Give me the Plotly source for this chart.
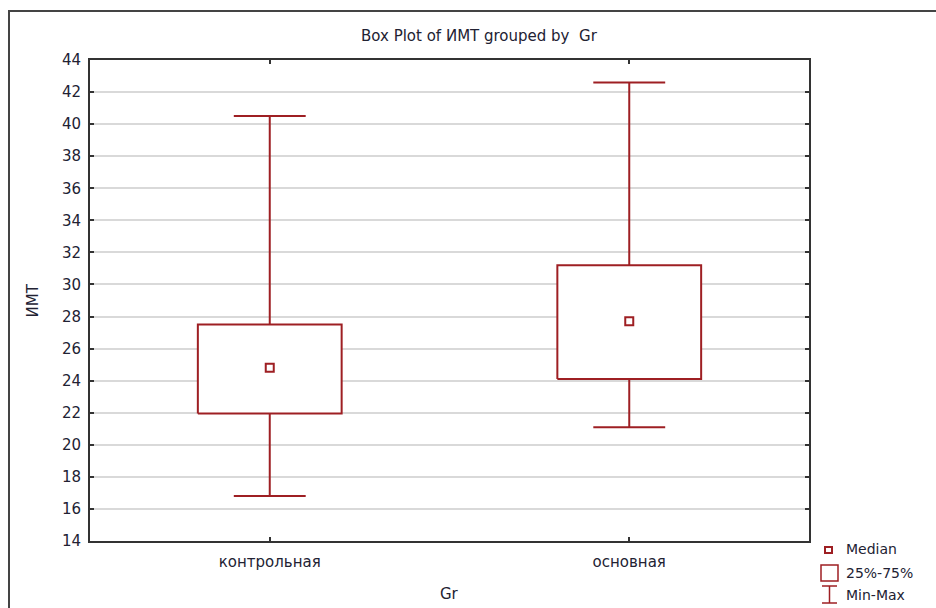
import plotly.graph_objects as go

# ---- data ----
groups = ["контрольная", "основная"]
mins = [16.8, 21.1]
q1s = [21.95, 24.1]
medians = [24.8, 27.7]
q3s = [27.5, 31.2]
maxs = [40.5, 42.6]
y_ticks = list(range(14, 45, 2))

RED = "#9e1f23"
TXT = "#222233"
FONT = "DejaVu Sans"
BOX_HALF = 0.2
CAP_HALF = 0.1

fig = go.Figure()

for i, g in enumerate(groups):
    # whiskers
    fig.add_trace(go.Scatter(
        x=[i, i, None, i, i],
        y=[q3s[i], maxs[i], None, q1s[i], mins[i]],
        mode="lines", line=dict(color=RED, width=2),
        showlegend=False, hoverinfo="skip"))
    # caps
    fig.add_trace(go.Scatter(
        x=[i - CAP_HALF, i + CAP_HALF, None, i - CAP_HALF, i + CAP_HALF],
        y=[maxs[i], maxs[i], None, mins[i], mins[i]],
        mode="lines", line=dict(color=RED, width=2),
        showlegend=False, hoverinfo="skip"))
    # box 25%-75%
    fig.add_trace(go.Scatter(
        x=[i - BOX_HALF, i + BOX_HALF, i + BOX_HALF, i - BOX_HALF, i - BOX_HALF],
        y=[q1s[i], q1s[i], q3s[i], q3s[i], q1s[i]],
        mode="lines", fill="toself", fillcolor="white",
        line=dict(color=RED, width=2),
        showlegend=False, hoverinfo="skip"))
    # median
    fig.add_trace(go.Scatter(
        x=[i], y=[medians[i]], mode="markers",
        marker=dict(symbol="square-open", size=8, color=RED,
                    line=dict(color=RED, width=2)),
        showlegend=False, name=g))

# plot area in pixels: x 90..809, y 60..541
L, R, T, B = 90, 809, 60, 541
W, H = R - L, B - T


def px(x):
    return (x - L) / W


def py(y):
    return (B - y) / H


shapes = []
annotations = []

# outer frame (cut at right and bottom)
shapes.append(dict(type="rect", xref="paper", yref="paper",
                   x0=px(9), x1=px(945), y0=py(620), y1=py(11),
                   line=dict(color="#444444", width=2), fillcolor="rgba(0,0,0,0)",
                   layer="above"))

# legend icons
shapes.append(dict(type="rect", xref="paper", yref="paper",
                   x0=px(825), x1=px(832), y0=py(553), y1=py(547),
                   line=dict(color=RED, width=2), fillcolor="white"))
shapes.append(dict(type="rect", xref="paper", yref="paper",
                   x0=px(821), x1=px(838), y0=py(581), y1=py(565),
                   line=dict(color=RED, width=1.5), fillcolor="white"))
shapes.append(dict(type="line", xref="paper", yref="paper",
                   x0=px(829.5), x1=px(829.5), y0=py(603), y1=py(586),
                   line=dict(color=RED, width=1.5)))
shapes.append(dict(type="line", xref="paper", yref="paper",
                   x0=px(822), x1=px(837), y0=py(586), y1=py(586),
                   line=dict(color=RED, width=1.5)))
shapes.append(dict(type="line", xref="paper", yref="paper",
                   x0=px(822), x1=px(837), y0=py(603), y1=py(603),
                   line=dict(color=RED, width=1.5)))

for label, yy in [("Median", 549), ("25%-75%", 573), ("Min-Max", 595)]:
    annotations.append(dict(text=label, xref="paper", yref="paper",
                            x=px(844), y=py(yy), xanchor="left", yanchor="middle",
                            showarrow=False, font=dict(family=FONT, size=14, color=TXT)))

# title
annotations.append(dict(text="Box Plot of ИМТ grouped by\u00a0\u00a0Gr",
                        xref="paper", yref="paper", x=px(480), y=py(36),
                        xanchor="center", yanchor="middle", showarrow=False,
                        font=dict(family=FONT, size=15, color=TXT)))
# axis titles
annotations.append(dict(text="ИМТ", xref="paper", yref="paper", x=px(32), y=0.5,
                        xanchor="center", yanchor="middle", textangle=-90,
                        showarrow=False, font=dict(family=FONT, size=15, color=TXT)))
annotations.append(dict(text="Gr", xref="paper", yref="paper", x=0.5, y=py(594),
                        xanchor="center", yanchor="middle",
                        showarrow=False, font=dict(family=FONT, size=15, color=TXT)))

fig.update_layout(
    width=936, height=608,
    margin=dict(l=L, r=936 - R, t=T, b=608 - B),
    paper_bgcolor="white", plot_bgcolor="white",
    showlegend=False,
    shapes=shapes, annotations=annotations,
    font=dict(family=FONT, size=15, color=TXT),
    xaxis=dict(range=[-0.5, 1.5], tickmode="array", tickvals=list(range(len(groups))),
               ticktext=groups, showgrid=False, zeroline=False,
               showline=True, linecolor="#333333", linewidth=2, mirror="ticks",
               ticks="inside", ticklen=4, tickwidth=1.5, tickcolor="#333333",
               ticklabelstandoff=6, fixedrange=True),
    yaxis=dict(range=[14, 44], tickmode="array", tickvals=y_ticks,
               showgrid=True, gridcolor="#d9d9d9", gridwidth=1.5, zeroline=False,
               showline=True, linecolor="#333333", linewidth=2, mirror="ticks",
               ticks="inside", ticklen=4, tickwidth=1.5, tickcolor="#333333",
               ticklabelstandoff=4, fixedrange=True),
)

fig.write_html("out.html")
